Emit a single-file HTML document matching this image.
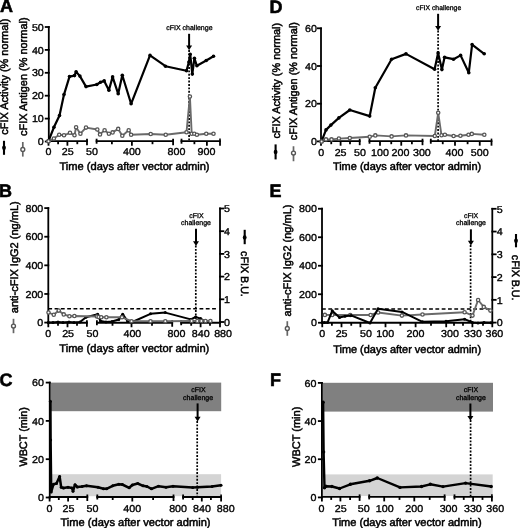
<!DOCTYPE html>
<html><head><meta charset="utf-8"><style>
html,body{margin:0;padding:0;background:#fff;width:520px;height:528px;overflow:hidden}
svg{display:block;will-change:transform}
text{font-family:'Liberation Sans', sans-serif;text-rendering:geometricPrecision}
</style></head><body>
<svg width="520" height="528" viewBox="0 0 520 528">
<rect x="0" y="0" width="520" height="528" fill="#fff"/>
<text x="0.0" y="12.4" font-size="18" text-anchor="start" font-weight="bold" fill="#000" stroke="#000" stroke-width="0.55" >A</text>
<line x1="48.8" y1="26.1" x2="48.8" y2="142.4" stroke="#000" stroke-width="1.8" />
<line x1="44.8" y1="27.0" x2="49.7" y2="27.0" stroke="#000" stroke-width="1.8" />
<text x="0" y="0" transform="translate(43.8,30.6) scale(1.07,1)" font-size="10" text-anchor="end" font-weight="normal" fill="#000" stroke="#000" stroke-width="0.35" >50</text>
<line x1="44.8" y1="49.9" x2="49.7" y2="49.9" stroke="#000" stroke-width="1.8" />
<text x="0" y="0" transform="translate(43.8,53.5) scale(1.07,1)" font-size="10" text-anchor="end" font-weight="normal" fill="#000" stroke="#000" stroke-width="0.35" >40</text>
<line x1="44.8" y1="72.8" x2="49.7" y2="72.8" stroke="#000" stroke-width="1.8" />
<text x="0" y="0" transform="translate(43.8,76.4) scale(1.07,1)" font-size="10" text-anchor="end" font-weight="normal" fill="#000" stroke="#000" stroke-width="0.35" >30</text>
<line x1="44.8" y1="95.7" x2="49.7" y2="95.7" stroke="#000" stroke-width="1.8" />
<text x="0" y="0" transform="translate(43.8,99.3) scale(1.07,1)" font-size="10" text-anchor="end" font-weight="normal" fill="#000" stroke="#000" stroke-width="0.35" >20</text>
<line x1="44.8" y1="118.6" x2="49.7" y2="118.6" stroke="#000" stroke-width="1.8" />
<text x="0" y="0" transform="translate(43.8,122.2) scale(1.07,1)" font-size="10" text-anchor="end" font-weight="normal" fill="#000" stroke="#000" stroke-width="0.35" >10</text>
<line x1="44.8" y1="141.5" x2="49.7" y2="141.5" stroke="#000" stroke-width="1.8" />
<text x="0" y="0" transform="translate(43.8,145.1) scale(1.07,1)" font-size="10" text-anchor="end" font-weight="normal" fill="#000" stroke="#000" stroke-width="0.35" >0</text>
<line x1="47.6" y1="141.2" x2="87.9" y2="141.2" stroke="#000" stroke-width="1.8" />
<line x1="87" y1="138.7" x2="87" y2="145.2" stroke="#000" stroke-width="1.8" />
<line x1="95.7" y1="141.2" x2="174.0" y2="141.2" stroke="#000" stroke-width="1.8" />
<line x1="96.6" y1="138.7" x2="96.6" y2="143.7" stroke="#000" stroke-width="1.8" />
<line x1="173.1" y1="138.7" x2="173.1" y2="145.2" stroke="#000" stroke-width="1.8" />
<line x1="180.6" y1="141.2" x2="220.9" y2="141.2" stroke="#000" stroke-width="1.8" />
<line x1="181.5" y1="138.7" x2="181.5" y2="143.7" stroke="#000" stroke-width="1.8" />
<line x1="48.5" y1="141.2" x2="48.5" y2="145.7" stroke="#000" stroke-width="1.8" />
<line x1="58.1" y1="141.2" x2="58.1" y2="144.2" stroke="#000" stroke-width="1.8" />
<line x1="67.4" y1="141.2" x2="67.4" y2="145.7" stroke="#000" stroke-width="1.8" />
<line x1="77.3" y1="141.2" x2="77.3" y2="144.2" stroke="#000" stroke-width="1.8" />
<line x1="111.9" y1="141.2" x2="111.9" y2="144.2" stroke="#000" stroke-width="1.8" />
<line x1="131.9" y1="141.2" x2="131.9" y2="145.7" stroke="#000" stroke-width="1.8" />
<line x1="152.5" y1="141.2" x2="152.5" y2="144.2" stroke="#000" stroke-width="1.8" />
<line x1="194.4" y1="141.2" x2="194.4" y2="144.2" stroke="#000" stroke-width="1.8" />
<line x1="206.9" y1="141.2" x2="206.9" y2="145.7" stroke="#000" stroke-width="1.8" />
<line x1="220" y1="141.2" x2="220" y2="145.7" stroke="#000" stroke-width="1.8" />
<text x="0" y="0" transform="translate(48.5,155.4) scale(1.07,1)" font-size="10" text-anchor="middle" font-weight="normal" fill="#000" stroke="#000" stroke-width="0.35" >0</text>
<text x="0" y="0" transform="translate(67.8,155.4) scale(1.07,1)" font-size="10" text-anchor="middle" font-weight="normal" fill="#000" stroke="#000" stroke-width="0.35" >25</text>
<text x="0" y="0" transform="translate(92,155.4) scale(1.07,1)" font-size="10" text-anchor="middle" font-weight="normal" fill="#000" stroke="#000" stroke-width="0.35" >50</text>
<text x="0" y="0" transform="translate(131.9,155.4) scale(1.07,1)" font-size="10" text-anchor="middle" font-weight="normal" fill="#000" stroke="#000" stroke-width="0.35" >400</text>
<text x="0" y="0" transform="translate(176.5,155.4) scale(1.07,1)" font-size="10" text-anchor="middle" font-weight="normal" fill="#000" stroke="#000" stroke-width="0.35" >800</text>
<text x="0" y="0" transform="translate(206.5,155.4) scale(1.07,1)" font-size="10" text-anchor="middle" font-weight="normal" fill="#000" stroke="#000" stroke-width="0.35" >900</text>
<line x1="220" y1="138.6" x2="220" y2="141.2" stroke="#000" stroke-width="1.6" />
<text x="59.5" y="169.9" font-size="11.1" text-anchor="start" font-weight="normal" fill="#000" stroke="#000" stroke-width="0.5" >Time (days after vector admin)</text>
<text x="0" y="0" font-size="10.95" text-anchor="start" font-weight="normal" fill="#000" transform="translate(8.2,134.7) rotate(-90)" stroke="#000" stroke-width="0.5" >cFIX Activity (% normal)</text>
<text x="0" y="0" font-size="10.95" text-anchor="start" font-weight="normal" fill="#000" transform="translate(26.6,136.0) rotate(-90)" stroke="#000" stroke-width="0.5" >cFIX Antigen (% normal)</text>
<line x1="4.0" y1="140.8" x2="4.0" y2="154.8" stroke="#000" stroke-width="2.1" />
<ellipse cx="4.0" cy="147.8" rx="1.9" ry="2.2" fill="#000"/>
<line x1="22.8" y1="142" x2="22.8" y2="156.6" stroke="#666" stroke-width="1.7" />
<circle cx="22.8" cy="149.4" r="1.95" fill="#fff" stroke="#555" stroke-width="1.4"/>
<text x="189.4" y="29.6" font-size="7" text-anchor="middle" font-weight="normal" fill="#000" stroke="#000" stroke-width="0.3" >cFIX challenge</text>
<line x1="189.1" y1="33.8" x2="189.1" y2="47.2" stroke="#000" stroke-width="2.0" />
<polygon points="186.1,45.4 192.1,45.4 189.1,50.2" fill="#000"/>
<line x1="189.1" y1="50" x2="189.1" y2="141" stroke="#000" stroke-width="1.7" stroke-dasharray="1.9 1.5"/>
<polyline points="48.5,141.3 53.9,138.5 59.2,134.8 64,135.3 70,132.8 74.5,135.3 76.1,127.3 80.4,133.7 86,127.6 97.3,129.5 100,134.4 104.6,130.3 108.9,133.7 112.6,132.4 118.2,128.9 122.3,135.7 128.7,130.3 131.1,134.8 150.7,134 165.7,134.8 186.5,132.2 189.9,96.5 191.7,133.75 194.3,133.75 196.9,134.8 206.25,133.75 213.5,133.75" fill="none" stroke="#6a6a6a" stroke-width="1.9" stroke-linejoin="round"/>
<circle cx="48.5" cy="141.3" r="1.65" fill="#fff" stroke="#555555" stroke-width="1.3"/>
<circle cx="53.9" cy="138.5" r="1.65" fill="#fff" stroke="#555555" stroke-width="1.3"/>
<circle cx="59.2" cy="134.8" r="1.65" fill="#fff" stroke="#555555" stroke-width="1.3"/>
<circle cx="64" cy="135.3" r="1.65" fill="#fff" stroke="#555555" stroke-width="1.3"/>
<circle cx="70" cy="132.8" r="1.65" fill="#fff" stroke="#555555" stroke-width="1.3"/>
<circle cx="74.5" cy="135.3" r="1.65" fill="#fff" stroke="#555555" stroke-width="1.3"/>
<circle cx="76.1" cy="127.3" r="1.65" fill="#fff" stroke="#555555" stroke-width="1.3"/>
<circle cx="80.4" cy="133.7" r="1.65" fill="#fff" stroke="#555555" stroke-width="1.3"/>
<circle cx="86" cy="127.6" r="1.65" fill="#fff" stroke="#555555" stroke-width="1.3"/>
<circle cx="97.3" cy="129.5" r="1.65" fill="#fff" stroke="#555555" stroke-width="1.3"/>
<circle cx="100" cy="134.4" r="1.65" fill="#fff" stroke="#555555" stroke-width="1.3"/>
<circle cx="104.6" cy="130.3" r="1.65" fill="#fff" stroke="#555555" stroke-width="1.3"/>
<circle cx="108.9" cy="133.7" r="1.65" fill="#fff" stroke="#555555" stroke-width="1.3"/>
<circle cx="112.6" cy="132.4" r="1.65" fill="#fff" stroke="#555555" stroke-width="1.3"/>
<circle cx="118.2" cy="128.9" r="1.65" fill="#fff" stroke="#555555" stroke-width="1.3"/>
<circle cx="122.3" cy="135.7" r="1.65" fill="#fff" stroke="#555555" stroke-width="1.3"/>
<circle cx="128.7" cy="130.3" r="1.65" fill="#fff" stroke="#555555" stroke-width="1.3"/>
<circle cx="131.1" cy="134.8" r="1.65" fill="#fff" stroke="#555555" stroke-width="1.3"/>
<circle cx="150.7" cy="134" r="1.65" fill="#fff" stroke="#555555" stroke-width="1.3"/>
<circle cx="165.7" cy="134.8" r="1.65" fill="#fff" stroke="#555555" stroke-width="1.3"/>
<circle cx="186.5" cy="132.2" r="1.65" fill="#fff" stroke="#555555" stroke-width="1.3"/>
<circle cx="189.9" cy="96.5" r="1.65" fill="#fff" stroke="#555555" stroke-width="1.3"/>
<circle cx="191.7" cy="133.75" r="1.65" fill="#fff" stroke="#555555" stroke-width="1.3"/>
<circle cx="194.3" cy="133.75" r="1.65" fill="#fff" stroke="#555555" stroke-width="1.3"/>
<circle cx="196.9" cy="134.8" r="1.65" fill="#fff" stroke="#555555" stroke-width="1.3"/>
<circle cx="206.25" cy="133.75" r="1.65" fill="#fff" stroke="#555555" stroke-width="1.3"/>
<circle cx="213.5" cy="133.75" r="1.65" fill="#fff" stroke="#555555" stroke-width="1.3"/>
<polyline points="48.5,141 53.9,127.3 59.5,115.5 64,94.6 69.5,76.6 74.5,75.6 76.1,71.75 79.9,76.1 86,86.6 96.8,84.5 100.5,82.2 104.2,80.9 108.9,90.3 112.6,76.9 118.2,93.8 122.3,75.3 131.1,103.8 150,55.4 165.5,66.2 186.5,70.8 188.9,62 190.2,54.2 192.3,74.1 194.4,58.3 196.9,65.8 206.25,60.5 213.5,56.2" fill="none" stroke="#000" stroke-width="2.2" stroke-linejoin="round"/>
<circle cx="48.5" cy="141" r="1.8" fill="#000"/>
<circle cx="53.9" cy="127.3" r="1.8" fill="#000"/>
<circle cx="59.5" cy="115.5" r="1.8" fill="#000"/>
<circle cx="64" cy="94.6" r="1.8" fill="#000"/>
<circle cx="69.5" cy="76.6" r="1.8" fill="#000"/>
<circle cx="74.5" cy="75.6" r="1.8" fill="#000"/>
<circle cx="76.1" cy="71.75" r="1.8" fill="#000"/>
<circle cx="79.9" cy="76.1" r="1.8" fill="#000"/>
<circle cx="86" cy="86.6" r="1.8" fill="#000"/>
<circle cx="96.8" cy="84.5" r="1.8" fill="#000"/>
<circle cx="100.5" cy="82.2" r="1.8" fill="#000"/>
<circle cx="104.2" cy="80.9" r="1.8" fill="#000"/>
<circle cx="108.9" cy="90.3" r="1.8" fill="#000"/>
<circle cx="112.6" cy="76.9" r="1.8" fill="#000"/>
<circle cx="118.2" cy="93.8" r="1.8" fill="#000"/>
<circle cx="122.3" cy="75.3" r="1.8" fill="#000"/>
<circle cx="131.1" cy="103.8" r="1.8" fill="#000"/>
<circle cx="150" cy="55.4" r="1.8" fill="#000"/>
<circle cx="165.5" cy="66.2" r="1.8" fill="#000"/>
<circle cx="186.5" cy="70.8" r="1.8" fill="#000"/>
<circle cx="188.9" cy="62" r="1.8" fill="#000"/>
<circle cx="190.2" cy="54.2" r="1.8" fill="#000"/>
<circle cx="192.3" cy="74.1" r="1.8" fill="#000"/>
<circle cx="194.4" cy="58.3" r="1.8" fill="#000"/>
<circle cx="196.9" cy="65.8" r="1.8" fill="#000"/>
<circle cx="206.25" cy="60.5" r="1.8" fill="#000"/>
<circle cx="213.5" cy="56.2" r="1.8" fill="#000"/>
<circle cx="48.5" cy="141.3" r="1.65" fill="#fff" stroke="#555555" stroke-width="1.3"/>
<text x="269.5" y="12.6" font-size="18" text-anchor="start" font-weight="bold" fill="#000" stroke="#000" stroke-width="0.55" >D</text>
<line x1="321" y1="27.4" x2="321" y2="142.3" stroke="#000" stroke-width="1.8" />
<line x1="317" y1="28.3" x2="321.9" y2="28.3" stroke="#000" stroke-width="1.8" />
<text x="0" y="0" transform="translate(316.9,31.9) scale(1.07,1)" font-size="10" text-anchor="end" font-weight="normal" fill="#000" stroke="#000" stroke-width="0.35" >60</text>
<line x1="317" y1="66.0" x2="321.9" y2="66.0" stroke="#000" stroke-width="1.8" />
<text x="0" y="0" transform="translate(316.9,69.6) scale(1.07,1)" font-size="10" text-anchor="end" font-weight="normal" fill="#000" stroke="#000" stroke-width="0.35" >40</text>
<line x1="317" y1="103.7" x2="321.9" y2="103.7" stroke="#000" stroke-width="1.8" />
<text x="0" y="0" transform="translate(316.9,107.3) scale(1.07,1)" font-size="10" text-anchor="end" font-weight="normal" fill="#000" stroke="#000" stroke-width="0.35" >20</text>
<line x1="317" y1="141.4" x2="321.9" y2="141.4" stroke="#000" stroke-width="1.8" />
<text x="0" y="0" transform="translate(316.9,145.0) scale(1.07,1)" font-size="10" text-anchor="end" font-weight="normal" fill="#000" stroke="#000" stroke-width="0.35" >0</text>
<line x1="320.1" y1="141.2" x2="360.6" y2="141.2" stroke="#000" stroke-width="1.8" />
<line x1="359.7" y1="138.7" x2="359.7" y2="145.2" stroke="#000" stroke-width="1.8" />
<line x1="368.6" y1="141.2" x2="423.4" y2="141.2" stroke="#000" stroke-width="1.8" />
<line x1="369.5" y1="138.7" x2="369.5" y2="143.7" stroke="#000" stroke-width="1.8" />
<line x1="422.5" y1="138.7" x2="422.5" y2="145.2" stroke="#000" stroke-width="1.8" />
<line x1="429.9" y1="141.2" x2="492.4" y2="141.2" stroke="#000" stroke-width="1.8" />
<line x1="430.8" y1="138.7" x2="430.8" y2="143.7" stroke="#000" stroke-width="1.8" />
<line x1="321" y1="141.2" x2="321" y2="145.7" stroke="#000" stroke-width="1.8" />
<line x1="331.25" y1="141.2" x2="331.25" y2="144.2" stroke="#000" stroke-width="1.8" />
<line x1="340.6" y1="141.2" x2="340.6" y2="145.7" stroke="#000" stroke-width="1.8" />
<line x1="350" y1="141.2" x2="350" y2="144.2" stroke="#000" stroke-width="1.8" />
<line x1="380" y1="141.2" x2="380" y2="145.7" stroke="#000" stroke-width="1.8" />
<line x1="391.25" y1="141.2" x2="391.25" y2="144.2" stroke="#000" stroke-width="1.8" />
<line x1="401.25" y1="141.2" x2="401.25" y2="145.7" stroke="#000" stroke-width="1.8" />
<line x1="411.9" y1="141.2" x2="411.9" y2="144.2" stroke="#000" stroke-width="1.8" />
<line x1="442.75" y1="141.2" x2="442.75" y2="144.2" stroke="#000" stroke-width="1.8" />
<line x1="455" y1="141.2" x2="455" y2="145.7" stroke="#000" stroke-width="1.8" />
<line x1="467.6" y1="141.2" x2="467.6" y2="144.2" stroke="#000" stroke-width="1.8" />
<line x1="479.75" y1="141.2" x2="479.75" y2="145.7" stroke="#000" stroke-width="1.8" />
<line x1="491.5" y1="141.2" x2="491.5" y2="145.7" stroke="#000" stroke-width="1.8" />
<text x="0" y="0" transform="translate(321.25,155.6) scale(1.07,1)" font-size="10" text-anchor="middle" font-weight="normal" fill="#000" stroke="#000" stroke-width="0.35" >0</text>
<text x="0" y="0" transform="translate(340.6,155.6) scale(1.07,1)" font-size="10" text-anchor="middle" font-weight="normal" fill="#000" stroke="#000" stroke-width="0.35" >25</text>
<text x="0" y="0" transform="translate(360,155.6) scale(1.07,1)" font-size="10" text-anchor="middle" font-weight="normal" fill="#000" stroke="#000" stroke-width="0.35" >50</text>
<text x="0" y="0" transform="translate(380,155.6) scale(1.07,1)" font-size="10" text-anchor="middle" font-weight="normal" fill="#000" stroke="#000" stroke-width="0.35" >100</text>
<text x="0" y="0" transform="translate(400.5,155.6) scale(1.07,1)" font-size="10" text-anchor="middle" font-weight="normal" fill="#000" stroke="#000" stroke-width="0.35" >200</text>
<text x="0" y="0" transform="translate(421.9,155.6) scale(1.07,1)" font-size="10" text-anchor="middle" font-weight="normal" fill="#000" stroke="#000" stroke-width="0.35" >300</text>
<text x="0" y="0" transform="translate(454.5,155.6) scale(1.07,1)" font-size="10" text-anchor="middle" font-weight="normal" fill="#000" stroke="#000" stroke-width="0.35" >400</text>
<text x="0" y="0" transform="translate(479.7,155.6) scale(1.07,1)" font-size="10" text-anchor="middle" font-weight="normal" fill="#000" stroke="#000" stroke-width="0.35" >500</text>
<line x1="491.5" y1="138.6" x2="491.5" y2="141.2" stroke="#000" stroke-width="1.6" />
<text x="332.9" y="170.1" font-size="10.97" text-anchor="start" font-weight="normal" fill="#000" stroke="#000" stroke-width="0.5" >Time (days after vector admin)</text>
<text x="0" y="0" font-size="10.92" text-anchor="start" font-weight="normal" fill="#000" transform="translate(279.7,138.6) rotate(-90)" stroke="#000" stroke-width="0.5" >cFIX Activity (% normal)</text>
<text x="0" y="0" font-size="10.92" text-anchor="start" font-weight="normal" fill="#000" transform="translate(297.1,140.2) rotate(-90)" stroke="#000" stroke-width="0.5" >cFIX Antigen (% normal)</text>
<line x1="275.6" y1="144.4" x2="275.6" y2="159.4" stroke="#000" stroke-width="2.1" />
<ellipse cx="275.6" cy="151.9" rx="1.9" ry="2.2" fill="#000"/>
<line x1="293.5" y1="146.25" x2="293.5" y2="161.25" stroke="#666" stroke-width="1.7" />
<circle cx="293.5" cy="153.1" r="1.95" fill="#fff" stroke="#555" stroke-width="1.4"/>
<text x="438.6" y="10.2" font-size="6.85" text-anchor="middle" font-weight="normal" fill="#000" stroke="#000" stroke-width="0.3" >cFIX challenge</text>
<line x1="438.1" y1="13.8" x2="438.1" y2="27.8" stroke="#000" stroke-width="2.0" />
<polygon points="435.1,26.0 441.1,26.0 438.1,30.8" fill="#000"/>
<line x1="438.1" y1="30.5" x2="438.1" y2="141" stroke="#000" stroke-width="1.7" stroke-dasharray="1.9 1.5"/>
<polyline points="321.6,141.5 326,139.4 331.5,139.4 338.9,138.6 349.8,138 369.7,136.8 375.3,135.4 391.6,136.4 406,135.4 434.8,136 438.2,112.8 441.5,135.3 444.9,134.7 453.6,136 460.4,135.7 468.5,134.7 471.8,133.9 484.3,134.7" fill="none" stroke="#6a6a6a" stroke-width="1.9" stroke-linejoin="round"/>
<circle cx="321.6" cy="141.5" r="1.65" fill="#fff" stroke="#555555" stroke-width="1.3"/>
<circle cx="326" cy="139.4" r="1.65" fill="#fff" stroke="#555555" stroke-width="1.3"/>
<circle cx="331.5" cy="139.4" r="1.65" fill="#fff" stroke="#555555" stroke-width="1.3"/>
<circle cx="338.9" cy="138.6" r="1.65" fill="#fff" stroke="#555555" stroke-width="1.3"/>
<circle cx="349.8" cy="138" r="1.65" fill="#fff" stroke="#555555" stroke-width="1.3"/>
<circle cx="369.7" cy="136.8" r="1.65" fill="#fff" stroke="#555555" stroke-width="1.3"/>
<circle cx="375.3" cy="135.4" r="1.65" fill="#fff" stroke="#555555" stroke-width="1.3"/>
<circle cx="391.6" cy="136.4" r="1.65" fill="#fff" stroke="#555555" stroke-width="1.3"/>
<circle cx="406" cy="135.4" r="1.65" fill="#fff" stroke="#555555" stroke-width="1.3"/>
<circle cx="434.8" cy="136" r="1.65" fill="#fff" stroke="#555555" stroke-width="1.3"/>
<circle cx="438.2" cy="112.8" r="1.65" fill="#fff" stroke="#555555" stroke-width="1.3"/>
<circle cx="441.5" cy="135.3" r="1.65" fill="#fff" stroke="#555555" stroke-width="1.3"/>
<circle cx="444.9" cy="134.7" r="1.65" fill="#fff" stroke="#555555" stroke-width="1.3"/>
<circle cx="453.6" cy="136" r="1.65" fill="#fff" stroke="#555555" stroke-width="1.3"/>
<circle cx="460.4" cy="135.7" r="1.65" fill="#fff" stroke="#555555" stroke-width="1.3"/>
<circle cx="468.5" cy="134.7" r="1.65" fill="#fff" stroke="#555555" stroke-width="1.3"/>
<circle cx="471.8" cy="133.9" r="1.65" fill="#fff" stroke="#555555" stroke-width="1.3"/>
<circle cx="484.3" cy="134.7" r="1.65" fill="#fff" stroke="#555555" stroke-width="1.3"/>
<polyline points="321.6,141.2 326,129.9 330.9,125.1 338.9,117.9 349.8,110 369.7,116.1 375.3,87.7 391.6,59.3 406,53.9 434.6,69.2 438.1,52.9 441.9,69.6 444.6,57.3 453.5,59.2 460.6,55.4 468.8,72.7 472.1,44.6 484.2,53.8" fill="none" stroke="#000" stroke-width="2.2" stroke-linejoin="round"/>
<circle cx="321.6" cy="141.2" r="1.8" fill="#000"/>
<circle cx="326" cy="129.9" r="1.8" fill="#000"/>
<circle cx="330.9" cy="125.1" r="1.8" fill="#000"/>
<circle cx="338.9" cy="117.9" r="1.8" fill="#000"/>
<circle cx="349.8" cy="110" r="1.8" fill="#000"/>
<circle cx="369.7" cy="116.1" r="1.8" fill="#000"/>
<circle cx="375.3" cy="87.7" r="1.8" fill="#000"/>
<circle cx="391.6" cy="59.3" r="1.8" fill="#000"/>
<circle cx="406" cy="53.9" r="1.8" fill="#000"/>
<circle cx="434.6" cy="69.2" r="1.8" fill="#000"/>
<circle cx="438.1" cy="52.9" r="1.8" fill="#000"/>
<circle cx="441.9" cy="69.6" r="1.8" fill="#000"/>
<circle cx="444.6" cy="57.3" r="1.8" fill="#000"/>
<circle cx="453.5" cy="59.2" r="1.8" fill="#000"/>
<circle cx="460.6" cy="55.4" r="1.8" fill="#000"/>
<circle cx="468.8" cy="72.7" r="1.8" fill="#000"/>
<circle cx="472.1" cy="44.6" r="1.8" fill="#000"/>
<circle cx="484.2" cy="53.8" r="1.8" fill="#000"/>
<circle cx="321.6" cy="141.5" r="1.65" fill="#fff" stroke="#555555" stroke-width="1.3"/>
<text x="-1.0" y="196.5" font-size="18" text-anchor="start" font-weight="bold" fill="#000" stroke="#000" stroke-width="0.55" >B</text>
<line x1="48.3" y1="207.2" x2="48.3" y2="323.48" stroke="#000" stroke-width="1.8" />
<line x1="44.3" y1="208.1" x2="49.2" y2="208.1" stroke="#000" stroke-width="1.8" />
<text x="0" y="0" transform="translate(43.3,211.7) scale(1.07,1)" font-size="10" text-anchor="end" font-weight="normal" fill="#000" stroke="#000" stroke-width="0.35" >800</text>
<line x1="44.3" y1="236.72" x2="49.2" y2="236.72" stroke="#000" stroke-width="1.8" />
<text x="0" y="0" transform="translate(43.3,240.32) scale(1.07,1)" font-size="10" text-anchor="end" font-weight="normal" fill="#000" stroke="#000" stroke-width="0.35" >600</text>
<line x1="44.3" y1="265.34" x2="49.2" y2="265.34" stroke="#000" stroke-width="1.8" />
<text x="0" y="0" transform="translate(43.3,268.94) scale(1.07,1)" font-size="10" text-anchor="end" font-weight="normal" fill="#000" stroke="#000" stroke-width="0.35" >400</text>
<line x1="44.3" y1="293.96" x2="49.2" y2="293.96" stroke="#000" stroke-width="1.8" />
<text x="0" y="0" transform="translate(43.3,297.56) scale(1.07,1)" font-size="10" text-anchor="end" font-weight="normal" fill="#000" stroke="#000" stroke-width="0.35" >200</text>
<line x1="44.3" y1="322.58" x2="49.2" y2="322.58" stroke="#000" stroke-width="1.8" />
<text x="0" y="0" transform="translate(43.3,326.18) scale(1.07,1)" font-size="10" text-anchor="end" font-weight="normal" fill="#000" stroke="#000" stroke-width="0.35" >0</text>
<line x1="47.4" y1="322.75" x2="87.8" y2="322.75" stroke="#000" stroke-width="1.8" />
<line x1="86.9" y1="320.25" x2="86.9" y2="326.75" stroke="#000" stroke-width="1.8" />
<line x1="96.0" y1="322.75" x2="173.1" y2="322.75" stroke="#000" stroke-width="1.8" />
<line x1="96.9" y1="320.25" x2="96.9" y2="325.25" stroke="#000" stroke-width="1.8" />
<line x1="172.2" y1="320.25" x2="172.2" y2="326.75" stroke="#000" stroke-width="1.8" />
<line x1="180.3" y1="322.75" x2="220.9" y2="322.75" stroke="#000" stroke-width="1.8" />
<line x1="181.2" y1="320.25" x2="181.2" y2="325.25" stroke="#000" stroke-width="1.8" />
<line x1="48.3" y1="322.75" x2="48.3" y2="327.25" stroke="#000" stroke-width="1.8" />
<line x1="58" y1="322.75" x2="58" y2="325.75" stroke="#000" stroke-width="1.8" />
<line x1="67.5" y1="322.75" x2="67.5" y2="327.25" stroke="#000" stroke-width="1.8" />
<line x1="77" y1="322.75" x2="77" y2="325.75" stroke="#000" stroke-width="1.8" />
<line x1="112.5" y1="322.75" x2="112.5" y2="325.75" stroke="#000" stroke-width="1.8" />
<line x1="131.5" y1="322.75" x2="131.5" y2="327.25" stroke="#000" stroke-width="1.8" />
<line x1="152" y1="322.75" x2="152" y2="325.75" stroke="#000" stroke-width="1.8" />
<line x1="191.2" y1="322.75" x2="191.2" y2="325.75" stroke="#000" stroke-width="1.8" />
<line x1="200.6" y1="322.75" x2="200.6" y2="327.25" stroke="#000" stroke-width="1.8" />
<line x1="210" y1="322.75" x2="210" y2="325.75" stroke="#000" stroke-width="1.8" />
<line x1="220.0" y1="322.75" x2="220.0" y2="327.25" stroke="#000" stroke-width="1.8" />
<text x="0" y="0" transform="translate(48.3,337.2) scale(1.07,1)" font-size="10" text-anchor="middle" font-weight="normal" fill="#000" stroke="#000" stroke-width="0.35" >0</text>
<text x="0" y="0" transform="translate(68.1,337.2) scale(1.07,1)" font-size="10" text-anchor="middle" font-weight="normal" fill="#000" stroke="#000" stroke-width="0.35" >25</text>
<text x="0" y="0" transform="translate(92.4,337.2) scale(1.07,1)" font-size="10" text-anchor="middle" font-weight="normal" fill="#000" stroke="#000" stroke-width="0.35" >50</text>
<text x="0" y="0" transform="translate(132.4,337.2) scale(1.07,1)" font-size="10" text-anchor="middle" font-weight="normal" fill="#000" stroke="#000" stroke-width="0.35" >400</text>
<text x="0" y="0" transform="translate(176.5,337.2) scale(1.07,1)" font-size="10" text-anchor="middle" font-weight="normal" fill="#000" stroke="#000" stroke-width="0.35" >800</text>
<text x="0" y="0" transform="translate(200.8,337.2) scale(1.07,1)" font-size="10" text-anchor="middle" font-weight="normal" fill="#000" stroke="#000" stroke-width="0.35" >840</text>
<text x="0" y="0" transform="translate(223.1,337.2) scale(1.07,1)" font-size="10" text-anchor="middle" font-weight="normal" fill="#000" stroke="#000" stroke-width="0.35" >880</text>
<line x1="220.0" y1="207.6" x2="220.0" y2="322.9" stroke="#000" stroke-width="1.8" />
<line x1="219.1" y1="208.5" x2="224.3" y2="208.5" stroke="#000" stroke-width="1.8" />
<text x="0" y="0" transform="translate(224.0,212.2) scale(1.07,1)" font-size="10" text-anchor="start" font-weight="normal" fill="#000" stroke="#000" stroke-width="0.35" >5</text>
<line x1="219.1" y1="231.2" x2="224.3" y2="231.2" stroke="#000" stroke-width="1.8" />
<text x="0" y="0" transform="translate(224.0,234.9) scale(1.07,1)" font-size="10" text-anchor="start" font-weight="normal" fill="#000" stroke="#000" stroke-width="0.35" >4</text>
<line x1="219.1" y1="253.9" x2="224.3" y2="253.9" stroke="#000" stroke-width="1.8" />
<text x="0" y="0" transform="translate(224.0,257.6) scale(1.07,1)" font-size="10" text-anchor="start" font-weight="normal" fill="#000" stroke="#000" stroke-width="0.35" >3</text>
<line x1="219.1" y1="276.6" x2="224.3" y2="276.6" stroke="#000" stroke-width="1.8" />
<text x="0" y="0" transform="translate(224.0,280.3) scale(1.07,1)" font-size="10" text-anchor="start" font-weight="normal" fill="#000" stroke="#000" stroke-width="0.35" >2</text>
<line x1="219.1" y1="299.3" x2="224.3" y2="299.3" stroke="#000" stroke-width="1.8" />
<text x="0" y="0" transform="translate(224.0,303.0) scale(1.07,1)" font-size="10" text-anchor="start" font-weight="normal" fill="#000" stroke="#000" stroke-width="0.35" >1</text>
<line x1="219.1" y1="322.0" x2="224.3" y2="322.0" stroke="#000" stroke-width="1.8" />
<text x="0" y="0" transform="translate(224.0,325.7) scale(1.07,1)" font-size="10" text-anchor="start" font-weight="normal" fill="#000" stroke="#000" stroke-width="0.35" >0</text>
<line x1="48.3" y1="308.75" x2="217" y2="308.75" stroke="#000" stroke-width="1.6" stroke-dasharray="3.8 2.5"/>
<text x="59.3" y="352.2" font-size="11.1" text-anchor="start" font-weight="normal" fill="#000" stroke="#000" stroke-width="0.5" >Time (days after vector admin)</text>
<text x="0" y="0" font-size="11" text-anchor="start" font-weight="normal" fill="#000" transform="translate(17.6,313.2) rotate(-90)" stroke="#000" stroke-width="0.5" >anti-cFIX IgG2 (ng/mL)</text>
<line x1="13.5" y1="318.8" x2="13.5" y2="333.2" stroke="#666" stroke-width="1.7" />
<circle cx="13.5" cy="326.1" r="1.95" fill="#fff" stroke="#555" stroke-width="1.4"/>
<text x="0" y="0" font-size="10.7" text-anchor="start" font-weight="normal" fill="#000" transform="translate(241.0,251.1) rotate(90)" stroke="#000" stroke-width="0.5" >cFIX B.U.</text>
<line x1="244.7" y1="229.8" x2="244.7" y2="244.2" stroke="#000" stroke-width="2.1" />
<ellipse cx="244.7" cy="237.4" rx="1.9" ry="2.2" fill="#000"/>
<text x="196.4" y="217.6" font-size="7" text-anchor="middle" font-weight="normal" fill="#000" stroke="#000" stroke-width="0.3" >cFIX</text>
<text x="196.0" y="225.0" font-size="7" text-anchor="middle" font-weight="normal" fill="#000" stroke="#000" stroke-width="0.3" >challenge</text>
<line x1="196" y1="228.7" x2="196" y2="243.0" stroke="#000" stroke-width="2.0" />
<polygon points="193,241.2 199,241.2 196,246.0" fill="#000"/>
<line x1="195.8" y1="245.5" x2="195.8" y2="322" stroke="#000" stroke-width="1.7" stroke-dasharray="1.9 1.5"/>
<polyline points="48.3,322.5 53,322.5 58,322 63,322.5 69,322 74,322.5 80,322 86,317.2 97.7,314.2 100.5,321 106,322 112,321.5 118.8,319.5 122.7,314.2 127.5,321 132.3,322 150.5,313.8 165.3,312.6 190.8,319.4 195.7,317 200.6,318.6 205,321.5 210,321.8" fill="none" stroke="#000" stroke-width="2.0" stroke-linejoin="round"/>
<circle cx="48.3" cy="322.5" r="1.5" fill="#000"/>
<circle cx="53" cy="322.5" r="1.5" fill="#000"/>
<circle cx="58" cy="322" r="1.5" fill="#000"/>
<circle cx="63" cy="322.5" r="1.5" fill="#000"/>
<circle cx="69" cy="322" r="1.5" fill="#000"/>
<circle cx="74" cy="322.5" r="1.5" fill="#000"/>
<circle cx="80" cy="322" r="1.5" fill="#000"/>
<circle cx="86" cy="317.2" r="1.5" fill="#000"/>
<circle cx="97.7" cy="314.2" r="1.5" fill="#000"/>
<circle cx="100.5" cy="321" r="1.5" fill="#000"/>
<circle cx="106" cy="322" r="1.5" fill="#000"/>
<circle cx="112" cy="321.5" r="1.5" fill="#000"/>
<circle cx="118.8" cy="319.5" r="1.5" fill="#000"/>
<circle cx="122.7" cy="314.2" r="1.5" fill="#000"/>
<circle cx="127.5" cy="321" r="1.5" fill="#000"/>
<circle cx="132.3" cy="322" r="1.5" fill="#000"/>
<circle cx="150.5" cy="313.8" r="1.5" fill="#000"/>
<circle cx="165.3" cy="312.6" r="1.5" fill="#000"/>
<circle cx="190.8" cy="319.4" r="1.5" fill="#000"/>
<circle cx="195.7" cy="317" r="1.5" fill="#000"/>
<circle cx="200.6" cy="318.6" r="1.5" fill="#000"/>
<circle cx="205" cy="321.5" r="1.5" fill="#000"/>
<circle cx="210" cy="321.8" r="1.5" fill="#000"/>
<polyline points="48.5,312.5 53.75,314.75 58.75,310.6 63.75,314.4 69.4,316.25 74.4,316 96.9,316.5 98.65,317 101.2,317.3 106.4,317.3 122,317.3 131.5,321.2 150.5,321.2 165.3,321.2 191.6,321 197.3,321 201.4,321 205.5,321 210.4,321" fill="none" stroke="#6a6a6a" stroke-width="1.9" stroke-linejoin="round"/>
<circle cx="48.5" cy="312.5" r="1.65" fill="#fff" stroke="#555555" stroke-width="1.3"/>
<circle cx="53.75" cy="314.75" r="1.65" fill="#fff" stroke="#555555" stroke-width="1.3"/>
<circle cx="58.75" cy="310.6" r="1.65" fill="#fff" stroke="#555555" stroke-width="1.3"/>
<circle cx="63.75" cy="314.4" r="1.65" fill="#fff" stroke="#555555" stroke-width="1.3"/>
<circle cx="69.4" cy="316.25" r="1.65" fill="#fff" stroke="#555555" stroke-width="1.3"/>
<circle cx="74.4" cy="316" r="1.65" fill="#fff" stroke="#555555" stroke-width="1.3"/>
<circle cx="96.9" cy="316.5" r="1.65" fill="#fff" stroke="#555555" stroke-width="1.3"/>
<circle cx="98.65" cy="317" r="1.65" fill="#fff" stroke="#555555" stroke-width="1.3"/>
<circle cx="101.2" cy="317.3" r="1.65" fill="#fff" stroke="#555555" stroke-width="1.3"/>
<circle cx="106.4" cy="317.3" r="1.65" fill="#fff" stroke="#555555" stroke-width="1.3"/>
<circle cx="122" cy="317.3" r="1.65" fill="#fff" stroke="#555555" stroke-width="1.3"/>
<circle cx="131.5" cy="321.2" r="1.65" fill="#fff" stroke="#555555" stroke-width="1.3"/>
<circle cx="150.5" cy="321.2" r="1.65" fill="#fff" stroke="#555555" stroke-width="1.3"/>
<circle cx="165.3" cy="321.2" r="1.65" fill="#fff" stroke="#555555" stroke-width="1.3"/>
<circle cx="191.6" cy="321" r="1.65" fill="#fff" stroke="#555555" stroke-width="1.3"/>
<circle cx="197.3" cy="321" r="1.65" fill="#fff" stroke="#555555" stroke-width="1.3"/>
<circle cx="201.4" cy="321" r="1.65" fill="#fff" stroke="#555555" stroke-width="1.3"/>
<circle cx="205.5" cy="321" r="1.65" fill="#fff" stroke="#555555" stroke-width="1.3"/>
<circle cx="210.4" cy="321" r="1.65" fill="#fff" stroke="#555555" stroke-width="1.3"/>
<text x="269.5" y="197.3" font-size="18" text-anchor="start" font-weight="bold" fill="#000" stroke="#000" stroke-width="0.55" >E</text>
<line x1="322" y1="207.85" x2="322" y2="323.65" stroke="#000" stroke-width="1.8" />
<line x1="318" y1="208.75" x2="322.9" y2="208.75" stroke="#000" stroke-width="1.8" />
<text x="0" y="0" transform="translate(316.9,212.35) scale(1.07,1)" font-size="10" text-anchor="end" font-weight="normal" fill="#000" stroke="#000" stroke-width="0.35" >800</text>
<line x1="318" y1="237.25" x2="322.9" y2="237.25" stroke="#000" stroke-width="1.8" />
<text x="0" y="0" transform="translate(316.9,240.85) scale(1.07,1)" font-size="10" text-anchor="end" font-weight="normal" fill="#000" stroke="#000" stroke-width="0.35" >600</text>
<line x1="318" y1="265.75" x2="322.9" y2="265.75" stroke="#000" stroke-width="1.8" />
<text x="0" y="0" transform="translate(316.9,269.35) scale(1.07,1)" font-size="10" text-anchor="end" font-weight="normal" fill="#000" stroke="#000" stroke-width="0.35" >400</text>
<line x1="318" y1="294.25" x2="322.9" y2="294.25" stroke="#000" stroke-width="1.8" />
<text x="0" y="0" transform="translate(316.9,297.85) scale(1.07,1)" font-size="10" text-anchor="end" font-weight="normal" fill="#000" stroke="#000" stroke-width="0.35" >200</text>
<line x1="318" y1="322.75" x2="322.9" y2="322.75" stroke="#000" stroke-width="1.8" />
<text x="0" y="0" transform="translate(316.9,326.35) scale(1.07,1)" font-size="10" text-anchor="end" font-weight="normal" fill="#000" stroke="#000" stroke-width="0.35" >0</text>
<line x1="321.1" y1="322.75" x2="493.2" y2="322.75" stroke="#000" stroke-width="1.8" />
<line x1="322.25" y1="322.75" x2="322.25" y2="327.25" stroke="#000" stroke-width="1.8" />
<line x1="331.9" y1="322.75" x2="331.9" y2="325.75" stroke="#000" stroke-width="1.8" />
<line x1="341.5" y1="322.75" x2="341.5" y2="327.25" stroke="#000" stroke-width="1.8" />
<line x1="351.25" y1="322.75" x2="351.25" y2="325.75" stroke="#000" stroke-width="1.8" />
<line x1="360.4" y1="322.75" x2="360.4" y2="327.25" stroke="#000" stroke-width="1.8" />
<line x1="385.5" y1="322.75" x2="385.5" y2="327.25" stroke="#000" stroke-width="1.8" />
<line x1="400.4" y1="322.75" x2="400.4" y2="325.75" stroke="#000" stroke-width="1.8" />
<line x1="415.6" y1="322.75" x2="415.6" y2="327.25" stroke="#000" stroke-width="1.8" />
<line x1="431" y1="322.75" x2="431" y2="325.75" stroke="#000" stroke-width="1.8" />
<line x1="446.2" y1="322.75" x2="446.2" y2="327.25" stroke="#000" stroke-width="1.8" />
<line x1="454" y1="322.75" x2="454" y2="325.75" stroke="#000" stroke-width="1.8" />
<line x1="463" y1="322.75" x2="463" y2="325.75" stroke="#000" stroke-width="1.8" />
<line x1="472.4" y1="322.75" x2="472.4" y2="327.25" stroke="#000" stroke-width="1.8" />
<line x1="483" y1="322.75" x2="483" y2="325.75" stroke="#000" stroke-width="1.8" />
<line x1="492.3" y1="322.75" x2="492.3" y2="327.25" stroke="#000" stroke-width="1.8" />
<text x="0" y="0" transform="translate(322.2,337.3) scale(1.07,1)" font-size="10" text-anchor="middle" font-weight="normal" fill="#000" stroke="#000" stroke-width="0.35" >0</text>
<text x="0" y="0" transform="translate(341.6,337.3) scale(1.07,1)" font-size="10" text-anchor="middle" font-weight="normal" fill="#000" stroke="#000" stroke-width="0.35" >25</text>
<text x="0" y="0" transform="translate(366,337.3) scale(1.07,1)" font-size="10" text-anchor="middle" font-weight="normal" fill="#000" stroke="#000" stroke-width="0.35" >50</text>
<text x="0" y="0" transform="translate(385.3,337.3) scale(1.07,1)" font-size="10" text-anchor="middle" font-weight="normal" fill="#000" stroke="#000" stroke-width="0.35" >100</text>
<text x="0" y="0" transform="translate(415.5,337.3) scale(1.07,1)" font-size="10" text-anchor="middle" font-weight="normal" fill="#000" stroke="#000" stroke-width="0.35" >200</text>
<text x="0" y="0" transform="translate(450,337.3) scale(1.07,1)" font-size="10" text-anchor="middle" font-weight="normal" fill="#000" stroke="#000" stroke-width="0.35" >300</text>
<text x="0" y="0" transform="translate(473,337.3) scale(1.07,1)" font-size="10" text-anchor="middle" font-weight="normal" fill="#000" stroke="#000" stroke-width="0.35" >330</text>
<text x="0" y="0" transform="translate(494.4,337.3) scale(1.07,1)" font-size="10" text-anchor="middle" font-weight="normal" fill="#000" stroke="#000" stroke-width="0.35" >360</text>
<line x1="492.3" y1="207.9" x2="492.3" y2="323.5" stroke="#000" stroke-width="1.8" />
<line x1="491.4" y1="208.8" x2="496.6" y2="208.8" stroke="#000" stroke-width="1.8" />
<text x="0" y="0" transform="translate(496.8,212.5) scale(1.07,1)" font-size="10" text-anchor="start" font-weight="normal" fill="#000" stroke="#000" stroke-width="0.35" >5</text>
<line x1="491.4" y1="231.56" x2="496.6" y2="231.56" stroke="#000" stroke-width="1.8" />
<text x="0" y="0" transform="translate(496.8,235.26) scale(1.07,1)" font-size="10" text-anchor="start" font-weight="normal" fill="#000" stroke="#000" stroke-width="0.35" >4</text>
<line x1="491.4" y1="254.32" x2="496.6" y2="254.32" stroke="#000" stroke-width="1.8" />
<text x="0" y="0" transform="translate(496.8,258.02) scale(1.07,1)" font-size="10" text-anchor="start" font-weight="normal" fill="#000" stroke="#000" stroke-width="0.35" >3</text>
<line x1="491.4" y1="277.08" x2="496.6" y2="277.08" stroke="#000" stroke-width="1.8" />
<text x="0" y="0" transform="translate(496.8,280.78) scale(1.07,1)" font-size="10" text-anchor="start" font-weight="normal" fill="#000" stroke="#000" stroke-width="0.35" >2</text>
<line x1="491.4" y1="299.84" x2="496.6" y2="299.84" stroke="#000" stroke-width="1.8" />
<text x="0" y="0" transform="translate(496.8,303.54) scale(1.07,1)" font-size="10" text-anchor="start" font-weight="normal" fill="#000" stroke="#000" stroke-width="0.35" >1</text>
<line x1="491.4" y1="322.6" x2="496.6" y2="322.6" stroke="#000" stroke-width="1.8" />
<text x="0" y="0" transform="translate(496.8,326.3) scale(1.07,1)" font-size="10" text-anchor="start" font-weight="normal" fill="#000" stroke="#000" stroke-width="0.35" >0</text>
<line x1="322" y1="309" x2="491" y2="309" stroke="#000" stroke-width="1.6" stroke-dasharray="3.8 2.5"/>
<text x="333.2" y="352.8" font-size="10.95" text-anchor="start" font-weight="normal" fill="#000" stroke="#000" stroke-width="0.5" >Time (days after vector admin)</text>
<text x="0" y="0" font-size="11" text-anchor="start" font-weight="normal" fill="#000" transform="translate(291.0,316.4) rotate(-90)" stroke="#000" stroke-width="0.5" >anti-cFIX IgG2 (ng/mL)</text>
<line x1="287.3" y1="321.2" x2="287.3" y2="335.8" stroke="#666" stroke-width="1.7" />
<circle cx="287.3" cy="328.5" r="1.95" fill="#fff" stroke="#555" stroke-width="1.4"/>
<text x="0" y="0" font-size="10.7" text-anchor="start" font-weight="normal" fill="#000" transform="translate(511.8,254.8) rotate(90)" stroke="#000" stroke-width="0.5" >cFIX B.U.</text>
<line x1="516" y1="234" x2="516" y2="247.3" stroke="#000" stroke-width="2.1" />
<ellipse cx="516" cy="240.7" rx="1.9" ry="2.2" fill="#000"/>
<text x="471.1" y="217.5" font-size="7" text-anchor="middle" font-weight="normal" fill="#000" stroke="#000" stroke-width="0.3" >cFIX</text>
<text x="471.0" y="225.0" font-size="7" text-anchor="middle" font-weight="normal" fill="#000" stroke="#000" stroke-width="0.3" >challenge</text>
<line x1="470.9" y1="229.3" x2="470.9" y2="242.5" stroke="#000" stroke-width="2.0" />
<polygon points="467.9,240.7 473.9,240.7 470.9,245.5" fill="#000"/>
<line x1="470.6" y1="245" x2="470.6" y2="322" stroke="#000" stroke-width="1.7" stroke-dasharray="1.9 1.5"/>
<polyline points="324.9,314.9 332.2,315 350.3,315 370.6,315 378.1,312.5 401.9,315.6 422.5,314.5 464.6,312.2 472.5,315.6 478.1,300 483.75,306.9 490.4,310.6" fill="none" stroke="#6a6a6a" stroke-width="1.9" stroke-linejoin="round"/>
<circle cx="324.9" cy="314.9" r="1.65" fill="#fff" stroke="#555555" stroke-width="1.3"/>
<circle cx="332.2" cy="315" r="1.65" fill="#fff" stroke="#555555" stroke-width="1.3"/>
<circle cx="350.3" cy="315" r="1.65" fill="#fff" stroke="#555555" stroke-width="1.3"/>
<circle cx="370.6" cy="315" r="1.65" fill="#fff" stroke="#555555" stroke-width="1.3"/>
<circle cx="378.1" cy="312.5" r="1.65" fill="#fff" stroke="#555555" stroke-width="1.3"/>
<circle cx="401.9" cy="315.6" r="1.65" fill="#fff" stroke="#555555" stroke-width="1.3"/>
<circle cx="422.5" cy="314.5" r="1.65" fill="#fff" stroke="#555555" stroke-width="1.3"/>
<circle cx="464.6" cy="312.2" r="1.65" fill="#fff" stroke="#555555" stroke-width="1.3"/>
<circle cx="472.5" cy="315.6" r="1.65" fill="#fff" stroke="#555555" stroke-width="1.3"/>
<circle cx="478.1" cy="300" r="1.65" fill="#fff" stroke="#555555" stroke-width="1.3"/>
<circle cx="483.75" cy="306.9" r="1.65" fill="#fff" stroke="#555555" stroke-width="1.3"/>
<circle cx="490.4" cy="310.6" r="1.65" fill="#fff" stroke="#555555" stroke-width="1.3"/>
<polyline points="322.25,322.6 324.5,322.6 327.5,322.6 332.2,310.8 339.5,317.4 345,316.2 351,315.4 370,323 378,308.75 402,311.9 422.5,321.8 446,321.2 464.6,319.2 472.5,322.5 478,323 484,322.5 491,322.7" fill="none" stroke="#000" stroke-width="2.0" stroke-linejoin="round"/>
<circle cx="322.25" cy="322.6" r="1.5" fill="#000"/>
<circle cx="324.5" cy="322.6" r="1.5" fill="#000"/>
<circle cx="327.5" cy="322.6" r="1.5" fill="#000"/>
<circle cx="332.2" cy="310.8" r="1.5" fill="#000"/>
<circle cx="339.5" cy="317.4" r="1.5" fill="#000"/>
<circle cx="345" cy="316.2" r="1.5" fill="#000"/>
<circle cx="351" cy="315.4" r="1.5" fill="#000"/>
<circle cx="370" cy="323" r="1.5" fill="#000"/>
<circle cx="378" cy="308.75" r="1.5" fill="#000"/>
<circle cx="402" cy="311.9" r="1.5" fill="#000"/>
<circle cx="422.5" cy="321.8" r="1.5" fill="#000"/>
<circle cx="446" cy="321.2" r="1.5" fill="#000"/>
<circle cx="464.6" cy="319.2" r="1.5" fill="#000"/>
<circle cx="472.5" cy="322.5" r="1.5" fill="#000"/>
<circle cx="478" cy="323" r="1.5" fill="#000"/>
<circle cx="484" cy="322.5" r="1.5" fill="#000"/>
<circle cx="491" cy="322.7" r="1.5" fill="#000"/>
<text x="-0.5" y="386.0" font-size="18" text-anchor="start" font-weight="bold" fill="#000" stroke="#000" stroke-width="0.55" >C</text>
<rect x="50.6" y="382.6" width="170.6" height="28.6" fill="#808080"/>
<rect x="50.6" y="474.2" width="170.5" height="22" fill="#d4d4d4"/>
<line x1="49.75" y1="381.7" x2="49.75" y2="498.4" stroke="#000" stroke-width="1.8" />
<line x1="45.75" y1="382.6" x2="50.65" y2="382.6" stroke="#000" stroke-width="1.8" />
<text x="0" y="0" transform="translate(43.9,386.2) scale(1.07,1)" font-size="10" text-anchor="end" font-weight="normal" fill="#000" stroke="#000" stroke-width="0.35" >60</text>
<line x1="45.75" y1="420.9" x2="50.65" y2="420.9" stroke="#000" stroke-width="1.8" />
<text x="0" y="0" transform="translate(43.9,424.5) scale(1.07,1)" font-size="10" text-anchor="end" font-weight="normal" fill="#000" stroke="#000" stroke-width="0.35" >40</text>
<line x1="45.75" y1="459.2" x2="50.65" y2="459.2" stroke="#000" stroke-width="1.8" />
<text x="0" y="0" transform="translate(43.9,462.8) scale(1.07,1)" font-size="10" text-anchor="end" font-weight="normal" fill="#000" stroke="#000" stroke-width="0.35" >20</text>
<line x1="45.75" y1="497.5" x2="50.65" y2="497.5" stroke="#000" stroke-width="1.8" />
<text x="0" y="0" transform="translate(43.9,501.1) scale(1.07,1)" font-size="10" text-anchor="end" font-weight="normal" fill="#000" stroke="#000" stroke-width="0.35" >0</text>
<line x1="48.7" y1="497" x2="88.2" y2="497" stroke="#000" stroke-width="1.8" />
<line x1="87.3" y1="494.5" x2="87.3" y2="501" stroke="#000" stroke-width="1.8" />
<line x1="96.4" y1="497" x2="174.4" y2="497" stroke="#000" stroke-width="1.8" />
<line x1="97.3" y1="494.5" x2="97.3" y2="499.5" stroke="#000" stroke-width="1.8" />
<line x1="173.5" y1="494.5" x2="173.5" y2="501" stroke="#000" stroke-width="1.8" />
<line x1="182.2" y1="497" x2="222.0" y2="497" stroke="#000" stroke-width="1.8" />
<line x1="183.1" y1="494.5" x2="183.1" y2="499.5" stroke="#000" stroke-width="1.8" />
<line x1="49.6" y1="497" x2="49.6" y2="501.5" stroke="#000" stroke-width="1.8" />
<line x1="58.8" y1="497" x2="58.8" y2="500" stroke="#000" stroke-width="1.8" />
<line x1="68.1" y1="497" x2="68.1" y2="501.5" stroke="#000" stroke-width="1.8" />
<line x1="77.3" y1="497" x2="77.3" y2="500" stroke="#000" stroke-width="1.8" />
<line x1="112.7" y1="497" x2="112.7" y2="500" stroke="#000" stroke-width="1.8" />
<line x1="132.3" y1="497" x2="132.3" y2="501.5" stroke="#000" stroke-width="1.8" />
<line x1="153.1" y1="497" x2="153.1" y2="500" stroke="#000" stroke-width="1.8" />
<line x1="192.7" y1="497" x2="192.7" y2="500" stroke="#000" stroke-width="1.8" />
<line x1="201.8" y1="497" x2="201.8" y2="501.5" stroke="#000" stroke-width="1.8" />
<line x1="210.9" y1="497" x2="210.9" y2="500" stroke="#000" stroke-width="1.8" />
<line x1="221.1" y1="497" x2="221.1" y2="501.5" stroke="#000" stroke-width="1.8" />
<text x="0" y="0" transform="translate(49.6,511.8) scale(1.07,1)" font-size="10" text-anchor="middle" font-weight="normal" fill="#000" stroke="#000" stroke-width="0.35" >0</text>
<text x="0" y="0" transform="translate(68.4,511.8) scale(1.07,1)" font-size="10" text-anchor="middle" font-weight="normal" fill="#000" stroke="#000" stroke-width="0.35" >25</text>
<text x="0" y="0" transform="translate(92.5,511.8) scale(1.07,1)" font-size="10" text-anchor="middle" font-weight="normal" fill="#000" stroke="#000" stroke-width="0.35" >50</text>
<text x="0" y="0" transform="translate(132.3,511.8) scale(1.07,1)" font-size="10" text-anchor="middle" font-weight="normal" fill="#000" stroke="#000" stroke-width="0.35" >400</text>
<text x="0" y="0" transform="translate(178.1,511.8) scale(1.07,1)" font-size="10" text-anchor="middle" font-weight="normal" fill="#000" stroke="#000" stroke-width="0.35" >800</text>
<text x="0" y="0" transform="translate(202,511.8) scale(1.07,1)" font-size="10" text-anchor="middle" font-weight="normal" fill="#000" stroke="#000" stroke-width="0.35" >840</text>
<text x="0" y="0" transform="translate(225.7,511.8) scale(1.07,1)" font-size="10" text-anchor="middle" font-weight="normal" fill="#000" stroke="#000" stroke-width="0.35" >880</text>
<line x1="221.1" y1="494.4" x2="221.1" y2="497" stroke="#000" stroke-width="1.6" />
<text x="60.5" y="525.5" font-size="11.1" text-anchor="start" font-weight="normal" fill="#000" stroke="#000" stroke-width="0.5" >Time (days after vector admin)</text>
<text x="0" y="0" font-size="10.85" text-anchor="start" font-weight="normal" fill="#000" transform="translate(27.3,466.6) rotate(-90)" stroke="#000" stroke-width="0.5" >WBCT (min)</text>
<text x="198.5" y="392.0" font-size="7" text-anchor="middle" font-weight="normal" fill="#000" stroke="#000" stroke-width="0.3" >cFIX</text>
<text x="198.1" y="399.8" font-size="7" text-anchor="middle" font-weight="normal" fill="#000" stroke="#000" stroke-width="0.3" >challenge</text>
<line x1="197.6" y1="403.4" x2="197.6" y2="418.6" stroke="#000" stroke-width="2.0" />
<polygon points="194.6,416.8 200.6,416.8 197.6,421.6" fill="#000"/>
<line x1="197.2" y1="421" x2="197.2" y2="497" stroke="#000" stroke-width="1.7" stroke-dasharray="1.9 1.5"/>
<polyline points="50.4,401.3 50.6,440 51.2,491.9 53.5,484.2 56.5,483.5 59.6,476.5 61.2,487.3 63.5,488 68,487.3 72,488 73,491.2 75,484.7 77.3,487 82,486.5 86.5,485.8 98,487.3 103.5,488.8 106.5,488.8 112.7,485.8 118.8,484.2 122.3,484.5 129.2,487.8 132.3,485 137.7,483.5 143,485.8 147,486.5 151.5,488.8 158.5,486.2 166,487.3 173,486.2 192.7,487.5 197.5,487.2 212,486.4 221,485.2" fill="none" stroke="#000" stroke-width="2.5" stroke-linejoin="round"/>
<circle cx="50.4" cy="401.3" r="1.5" fill="#000"/>
<circle cx="50.6" cy="440" r="1.5" fill="#000"/>
<circle cx="51.2" cy="491.9" r="1.5" fill="#000"/>
<circle cx="53.5" cy="484.2" r="1.5" fill="#000"/>
<circle cx="56.5" cy="483.5" r="1.5" fill="#000"/>
<circle cx="59.6" cy="476.5" r="1.5" fill="#000"/>
<circle cx="61.2" cy="487.3" r="1.5" fill="#000"/>
<circle cx="63.5" cy="488" r="1.5" fill="#000"/>
<circle cx="68" cy="487.3" r="1.5" fill="#000"/>
<circle cx="72" cy="488" r="1.5" fill="#000"/>
<circle cx="73" cy="491.2" r="1.5" fill="#000"/>
<circle cx="75" cy="484.7" r="1.5" fill="#000"/>
<circle cx="77.3" cy="487" r="1.5" fill="#000"/>
<circle cx="82" cy="486.5" r="1.5" fill="#000"/>
<circle cx="86.5" cy="485.8" r="1.5" fill="#000"/>
<circle cx="98" cy="487.3" r="1.5" fill="#000"/>
<circle cx="103.5" cy="488.8" r="1.5" fill="#000"/>
<circle cx="106.5" cy="488.8" r="1.5" fill="#000"/>
<circle cx="112.7" cy="485.8" r="1.5" fill="#000"/>
<circle cx="118.8" cy="484.2" r="1.5" fill="#000"/>
<circle cx="122.3" cy="484.5" r="1.5" fill="#000"/>
<circle cx="129.2" cy="487.8" r="1.5" fill="#000"/>
<circle cx="132.3" cy="485" r="1.5" fill="#000"/>
<circle cx="137.7" cy="483.5" r="1.5" fill="#000"/>
<circle cx="143" cy="485.8" r="1.5" fill="#000"/>
<circle cx="147" cy="486.5" r="1.5" fill="#000"/>
<circle cx="151.5" cy="488.8" r="1.5" fill="#000"/>
<circle cx="158.5" cy="486.2" r="1.5" fill="#000"/>
<circle cx="166" cy="487.3" r="1.5" fill="#000"/>
<circle cx="173" cy="486.2" r="1.5" fill="#000"/>
<circle cx="192.7" cy="487.5" r="1.5" fill="#000"/>
<circle cx="197.5" cy="487.2" r="1.5" fill="#000"/>
<circle cx="212" cy="486.4" r="1.5" fill="#000"/>
<circle cx="221" cy="485.2" r="1.5" fill="#000"/>
<text x="270.1" y="385.6" font-size="18" text-anchor="start" font-weight="bold" fill="#000" stroke="#000" stroke-width="0.55" >F</text>
<rect x="322.7" y="382.8" width="170.3" height="28.8" fill="#808080"/>
<rect x="322.7" y="474.4" width="170" height="21.6" fill="#d4d4d4"/>
<line x1="321.9" y1="382.0" x2="321.9" y2="498.31" stroke="#000" stroke-width="1.8" />
<line x1="317.9" y1="382.9" x2="322.8" y2="382.9" stroke="#000" stroke-width="1.8" />
<text x="0" y="0" transform="translate(316.4,386.5) scale(1.07,1)" font-size="10" text-anchor="end" font-weight="normal" fill="#000" stroke="#000" stroke-width="0.35" >60</text>
<line x1="317.9" y1="421.07" x2="322.8" y2="421.07" stroke="#000" stroke-width="1.8" />
<text x="0" y="0" transform="translate(316.4,424.67) scale(1.07,1)" font-size="10" text-anchor="end" font-weight="normal" fill="#000" stroke="#000" stroke-width="0.35" >40</text>
<line x1="317.9" y1="459.24" x2="322.8" y2="459.24" stroke="#000" stroke-width="1.8" />
<text x="0" y="0" transform="translate(316.4,462.84) scale(1.07,1)" font-size="10" text-anchor="end" font-weight="normal" fill="#000" stroke="#000" stroke-width="0.35" >20</text>
<line x1="317.9" y1="497.41" x2="322.8" y2="497.41" stroke="#000" stroke-width="1.8" />
<text x="0" y="0" transform="translate(316.4,501.01) scale(1.07,1)" font-size="10" text-anchor="end" font-weight="normal" fill="#000" stroke="#000" stroke-width="0.35" >0</text>
<line x1="321.0" y1="496.9" x2="360.5" y2="496.9" stroke="#000" stroke-width="1.8" />
<line x1="359.6" y1="494.4" x2="359.6" y2="500.9" stroke="#000" stroke-width="1.8" />
<line x1="368.3" y1="496.9" x2="445.5" y2="496.9" stroke="#000" stroke-width="1.8" />
<line x1="369.2" y1="494.4" x2="369.2" y2="499.4" stroke="#000" stroke-width="1.8" />
<line x1="444.6" y1="494.4" x2="444.6" y2="500.9" stroke="#000" stroke-width="1.8" />
<line x1="453.6" y1="496.9" x2="492.8" y2="496.9" stroke="#000" stroke-width="1.8" />
<line x1="454.5" y1="494.4" x2="454.5" y2="499.4" stroke="#000" stroke-width="1.8" />
<line x1="321.9" y1="496.9" x2="321.9" y2="501.4" stroke="#000" stroke-width="1.8" />
<line x1="331.2" y1="496.9" x2="331.2" y2="499.9" stroke="#000" stroke-width="1.8" />
<line x1="340.4" y1="496.9" x2="340.4" y2="501.4" stroke="#000" stroke-width="1.8" />
<line x1="350.1" y1="496.9" x2="350.1" y2="499.9" stroke="#000" stroke-width="1.8" />
<line x1="384.2" y1="496.9" x2="384.2" y2="501.4" stroke="#000" stroke-width="1.8" />
<line x1="399.5" y1="496.9" x2="399.5" y2="499.9" stroke="#000" stroke-width="1.8" />
<line x1="414.3" y1="496.9" x2="414.3" y2="501.4" stroke="#000" stroke-width="1.8" />
<line x1="429.7" y1="496.9" x2="429.7" y2="499.9" stroke="#000" stroke-width="1.8" />
<line x1="463.75" y1="496.9" x2="463.75" y2="499.9" stroke="#000" stroke-width="1.8" />
<line x1="473.1" y1="496.9" x2="473.1" y2="501.4" stroke="#000" stroke-width="1.8" />
<line x1="482.5" y1="496.9" x2="482.5" y2="499.9" stroke="#000" stroke-width="1.8" />
<line x1="491.9" y1="496.9" x2="491.9" y2="501.4" stroke="#000" stroke-width="1.8" />
<text x="0" y="0" transform="translate(321.5,511.8) scale(1.07,1)" font-size="10" text-anchor="middle" font-weight="normal" fill="#000" stroke="#000" stroke-width="0.35" >0</text>
<text x="0" y="0" transform="translate(340.8,511.8) scale(1.07,1)" font-size="10" text-anchor="middle" font-weight="normal" fill="#000" stroke="#000" stroke-width="0.35" >25</text>
<text x="0" y="0" transform="translate(363.8,511.8) scale(1.07,1)" font-size="10" text-anchor="middle" font-weight="normal" fill="#000" stroke="#000" stroke-width="0.35" >50</text>
<text x="0" y="0" transform="translate(384.7,511.8) scale(1.07,1)" font-size="10" text-anchor="middle" font-weight="normal" fill="#000" stroke="#000" stroke-width="0.35" >100</text>
<text x="0" y="0" transform="translate(414.3,511.8) scale(1.07,1)" font-size="10" text-anchor="middle" font-weight="normal" fill="#000" stroke="#000" stroke-width="0.35" >200</text>
<text x="0" y="0" transform="translate(448.6,511.8) scale(1.07,1)" font-size="10" text-anchor="middle" font-weight="normal" fill="#000" stroke="#000" stroke-width="0.35" >300</text>
<text x="0" y="0" transform="translate(472.9,511.8) scale(1.07,1)" font-size="10" text-anchor="middle" font-weight="normal" fill="#000" stroke="#000" stroke-width="0.35" >330</text>
<text x="0" y="0" transform="translate(495.3,511.8) scale(1.07,1)" font-size="10" text-anchor="middle" font-weight="normal" fill="#000" stroke="#000" stroke-width="0.35" >360</text>
<line x1="491.9" y1="494.3" x2="491.9" y2="496.9" stroke="#000" stroke-width="1.6" />
<text x="332.3" y="525.5" font-size="11.06" text-anchor="start" font-weight="normal" fill="#000" stroke="#000" stroke-width="0.5" >Time (days after vector admin)</text>
<text x="0" y="0" font-size="11" text-anchor="start" font-weight="normal" fill="#000" transform="translate(299.7,467.0) rotate(-90)" stroke="#000" stroke-width="0.5" >WBCT (min)</text>
<text x="470.9" y="392.0" font-size="7" text-anchor="middle" font-weight="normal" fill="#000" stroke="#000" stroke-width="0.3" >cFIX</text>
<text x="470.9" y="399.9" font-size="7" text-anchor="middle" font-weight="normal" fill="#000" stroke="#000" stroke-width="0.3" >challenge</text>
<line x1="470.4" y1="403.5" x2="470.4" y2="417.8" stroke="#000" stroke-width="2.0" />
<polygon points="467.4,416.0 473.4,416.0 470.4,420.8" fill="#000"/>
<line x1="470.6" y1="420" x2="470.6" y2="497" stroke="#000" stroke-width="1.7" stroke-dasharray="1.9 1.5"/>
<polyline points="323.1,402.3 323.6,452 324.5,487.7 325.8,486.2 331.9,486.5 339.6,488.5 350.4,484.3 369.6,480.8 377.3,478 400,487.4 421.5,486.5 430.3,484.3 443,486.6 465.6,483.1 491.25,486.5" fill="none" stroke="#000" stroke-width="2.4" stroke-linejoin="round"/>
<circle cx="323.1" cy="402.3" r="1.7" fill="#000"/>
<circle cx="323.6" cy="452" r="1.7" fill="#000"/>
<circle cx="324.5" cy="487.7" r="1.7" fill="#000"/>
<circle cx="325.8" cy="486.2" r="1.7" fill="#000"/>
<circle cx="331.9" cy="486.5" r="1.7" fill="#000"/>
<circle cx="339.6" cy="488.5" r="1.7" fill="#000"/>
<circle cx="350.4" cy="484.3" r="1.7" fill="#000"/>
<circle cx="369.6" cy="480.8" r="1.7" fill="#000"/>
<circle cx="377.3" cy="478" r="1.7" fill="#000"/>
<circle cx="400" cy="487.4" r="1.7" fill="#000"/>
<circle cx="421.5" cy="486.5" r="1.7" fill="#000"/>
<circle cx="430.3" cy="484.3" r="1.7" fill="#000"/>
<circle cx="443" cy="486.6" r="1.7" fill="#000"/>
<circle cx="465.6" cy="483.1" r="1.7" fill="#000"/>
<circle cx="491.25" cy="486.5" r="1.7" fill="#000"/>
</svg>
</body></html>
